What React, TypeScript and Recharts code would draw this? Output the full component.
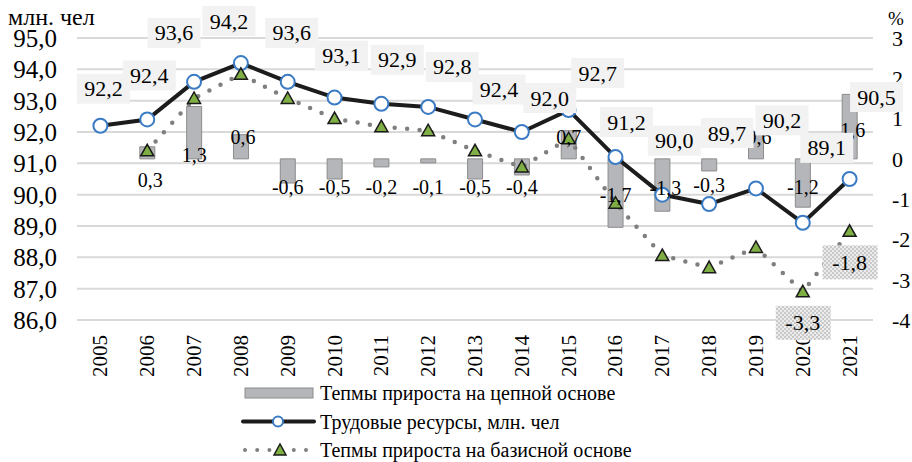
import React from "react";
import {
  ComposedChart,
  Bar,
  Line,
  XAxis,
  YAxis,
  CartesianGrid,
  LabelList,
  Legend,
} from "recharts";

const years = [
  "2005", "2006", "2007", "2008", "2009", "2010", "2011", "2012", "2013",
  "2014", "2015", "2016", "2017", "2018", "2019", "2020", "2021",
];
const laborForce = [
  92.2, 92.4, 93.6, 94.2, 93.6, 93.1, 92.9, 92.8, 92.4, 92.0, 92.7, 91.2, 90.0,
  89.7, 90.2, 89.1, 90.5,
];
const chainGrowth = [
  null, 0.3, 1.3, 0.6, -0.6, -0.5, -0.2, -0.1, -0.5, -0.4, 0.7, -1.7, -1.3,
  -0.3, 0.6, -1.2, 1.6,
];
const baseGrowth = [
  null, 0.2, 1.5, 2.1, 1.5, 1.0, 0.8, 0.7, 0.2, -0.2, 0.5, -1.1, -2.4, -2.7,
  -2.2, -3.3, -1.8,
];
const leftTicks = [86, 87, 88, 89, 90, 91, 92, 93, 94, 95];
const rightTicks = [-4, -3, -2, -1, 0, 1, 2, 3];

// label placement (offsets from the point / zero line), as laid out in the original
const laborLabelDx = [3, 2, -20, -12, 4, 7, 16, 24, 24, 28, 29, 11, 12, 18, 26, 24, 27];
const laborLabelDy = [-37, -44, -49, -42, -49, -42, -44, -40, -30, -34, -37, -35, -54, -71, -68, -75, -82];
const barLabelDx = [0, 3, 0, 2, 0, 0, 0, 0, 0, 0, 0, 0, 3, 0, 3, 0, 3];
const barLabelDy = [0, 21, -4, -22, 28, 28, 28, 28, 28, 28, -22, 36, 29, 26, -22, 28, -29];
const baseLabelDy = 31;
const legendOrder = ["chain", "labor", "base"];

// bars with no value get no label, so label index -> year index
const barYearIdx = chainGrowth
  .map((v, i) => (v == null ? -1 : i))
  .filter((i) => i >= 0);

const data = years.map((year, i) => ({
  year,
  labor: laborForce[i],
  chain: chainGrowth[i],
  base: baseGrowth[i],
}));

const FONT = '"Liberation Serif", "Times New Roman", serif';
const BAR_FILL = "#b5b6ba";
const BAR_STROKE = "#8c8c8c";
const GREEN = "#7fae45";
const BLUE = "#3b7bc4";

const fmt = (v: number) => v.toFixed(1).replace(".", ",");

const LaborLabel = (p: any) => {
  const vb = p.viewBox || {};
  const x = vb.x ?? p.x;
  const y = vb.y ?? p.y;
  if (p.value == null || x == null || y == null) return null;
  const cx = x + laborLabelDx[p.index];
  const cy = y + laborLabelDy[p.index];
  return (
    <g>
      <rect x={cx - 26.5} y={cy - 15} width={53} height={30} fill="#f2f2f2" />
      <text x={cx} y={cy} textAnchor="middle" dominantBaseline="central" fontSize={22} fontFamily={FONT} fill="#000">
        {fmt(p.value)}
      </text>
    </g>
  );
};

const ChainLabel = (p: any) => {
  const vb = p.viewBox || {};
  const x = vb.x ?? p.x;
  const y = vb.y ?? p.y;
  const w = vb.width ?? p.width ?? 0;
  const h = vb.height ?? p.height ?? 0;
  if (p.value == null || x == null || y == null) return null;
  const k = barYearIdx[p.index] ?? p.index;
  const zero = p.value >= 0 ? Math.max(y, y + h) : Math.min(y, y + h);
  return (
    <text
      x={x + w / 2 + barLabelDx[k]}
      y={zero + barLabelDy[k]}
      textAnchor="middle"
      dominantBaseline="central"
      fontSize={20}
      fontFamily={FONT}
      fill="#000"
    >
      {fmt(p.value)}
    </text>
  );
};

const BaseLabel = (p: any) => {
  if (p.index < 15) return null;
  const vb = p.viewBox || {};
  const x = vb.x ?? p.x;
  const y = vb.y ?? p.y;
  if (p.value == null || x == null || y == null) return null;
  const cy = y + baseLabelDy;
  return (
    <g>
      <rect x={x - 27} y={cy - 17} width={55} height={34} fill="url(#dotFill)" />
      <text x={x} y={cy} textAnchor="middle" dominantBaseline="central" fontSize={22} fontFamily={FONT} fill="#000">
        {fmt(p.value)}
      </text>
    </g>
  );
};

const Triangle = (p: any) => {
  const { cx, cy, index } = p;
  if (cx == null || cy == null || p.value == null) return <g key={`t-${index}`} />;
  return (
    <polygon
      key={`t-${index}`}
      points={`${cx - 6.5},${cy + 5} ${cx + 6.5},${cy + 5} ${cx},${cy - 6.5}`}
      fill={GREEN}
      stroke="#1a1a1a"
      strokeWidth={1.5}
    />
  );
};

const YearTick = (p: any) => {
  const { x, y, payload } = p;
  return (
    <text
      x={x}
      y={y}
      transform={`rotate(-90 ${x} ${y})`}
      textAnchor="end"
      dominantBaseline="central"
      fontSize={21}
      fontFamily={FONT}
      fill="#000"
    >
      {payload.value}
    </text>
  );
};

const LegendBox = (props: any) => {
  const items = [...(props.payload || [])].sort(
    (a: any, b: any) => legendOrder.indexOf(a.dataKey) - legendOrder.indexOf(b.dataKey)
  );
  return (
    <svg width={430} height={86} style={{ display: "block" }}>
      {items.map((it: any, i: number) => {
        const cy = 15 + i * 28.5;
        let icon = null;
        if (it.dataKey === "chain") {
          icon = <rect x={7} y={cy - 5} width={68} height={10} fill={BAR_FILL} stroke={BAR_STROKE} />;
        } else if (it.dataKey === "labor") {
          icon = (
            <g>
              <line x1={5} y1={cy} x2={76} y2={cy} stroke="#1c1c1c" strokeWidth={4} strokeLinecap="round" />
              <circle cx={40} cy={cy} r={5} fill="#fff" stroke={BLUE} strokeWidth={2} />
            </g>
          );
        } else {
          icon = (
            <g>
              <line x1={7} y1={cy} x2={70} y2={cy} stroke="#7f7f7f" strokeWidth={4} strokeDasharray="0 12.2" strokeLinecap="round" />
              <polygon points={`${36},${cy + 5} ${48},${cy + 5} ${42},${cy - 6}`} fill={GREEN} stroke="#1a1a1a" strokeWidth={1.5} />
            </g>
          );
        }
        return (
          <g key={it.dataKey}>
            {icon}
            <text x={82} y={cy} dominantBaseline="central" fontSize={20} fontFamily={FONT} fill="#000">
              {it.value}
            </text>
          </g>
        );
      })}
    </svg>
  );
};

export default function App() {
  return (
    <div style={{ width: 912, height: 462, position: "relative", background: "#fff" }}>
      <style>{"body{margin:0}"}</style>
      <ComposedChart width={912} height={462} data={data} margin={{ top: 38, right: 0, bottom: 0, left: 0 }}>
        <defs>
          <pattern id="dotFill" width={4} height={4} patternUnits="userSpaceOnUse">
            <rect width={4} height={4} fill="#ececec" />
            <rect x={0} y={0} width={2} height={2} fill="#c9c9c9" />
            <rect x={2} y={2} width={2} height={2} fill="#c9c9c9" />
          </pattern>
        </defs>
        <CartesianGrid yAxisId="left" vertical={false} stroke="#d9d9d9" strokeWidth={2} />
        <XAxis
          dataKey="year"
          height={142}
          axisLine={false}
          tickLine={false}
          tickSize={0}
          tickMargin={15}
          interval={0}
          tick={<YearTick />}
        />
        <YAxis
          yAxisId="left"
          width={77}
          domain={[86, 95]}
          ticks={leftTicks}
          interval={0}
          axisLine={false}
          tickLine={false}
          tickSize={0}
          tickMargin={20}
          tickFormatter={(v: number) => fmt(v)}
          tick={{ fontSize: 25, fontFamily: FONT, fill: "#000" }}
          label={{
            content: () => (
              <text x={8} y={25} fontSize={24} fontFamily={FONT} fill="#000">
                млн. чел
              </text>
            ),
          }}
        />
        <YAxis
          yAxisId="right"
          orientation="right"
          width={39}
          domain={[-4, 3]}
          ticks={rightTicks}
          interval={0}
          axisLine={false}
          tickLine={false}
          tickSize={0}
          tickMargin={19}
          tick={{ fontSize: 22, fontFamily: FONT, fill: "#000", textAnchor: "start" }}
          label={{
            content: () => (
              <text x={888} y={25} fontSize={19} fontFamily={FONT} fill="#000">
                %
              </text>
            ),
          }}
        />
        <Bar
          yAxisId="right"
          dataKey="chain"
          name="Тепмы прироста на цепной основе"
          barSize={15}
          fill={BAR_FILL}
          stroke={BAR_STROKE}
          strokeWidth={1}
          isAnimationActive={false}
        >
          <LabelList dataKey="chain" content={ChainLabel} />
        </Bar>
        <Line
          yAxisId="left"
          dataKey="labor"
          name="Трудовые ресурсы, млн. чел"
          stroke="#1c1c1c"
          strokeWidth={4}
          dot={{ r: 7, fill: "#fff", stroke: BLUE, strokeWidth: 2 }}
          activeDot={false}
          isAnimationActive={false}
        >
          <LabelList dataKey="labor" content={LaborLabel} />
        </Line>
        <Line
          yAxisId="right"
          dataKey="base"
          name="Тепмы прироста на базисной основе"
          stroke="#7f7f7f"
          strokeWidth={4.5}
          strokeDasharray="0 12.5"
          strokeLinecap="round"
          dot={Triangle}
          activeDot={false}
          isAnimationActive={false}
        >
          <LabelList dataKey="base" content={BaseLabel} />
        </Line>
        <Legend
          layout="vertical"
          verticalAlign="middle"
          align="center"
          wrapperStyle={{ left: 238, top: 378, width: 430, height: 86 }}
          content={LegendBox}
        />
      </ComposedChart>
    </div>
  );
}
